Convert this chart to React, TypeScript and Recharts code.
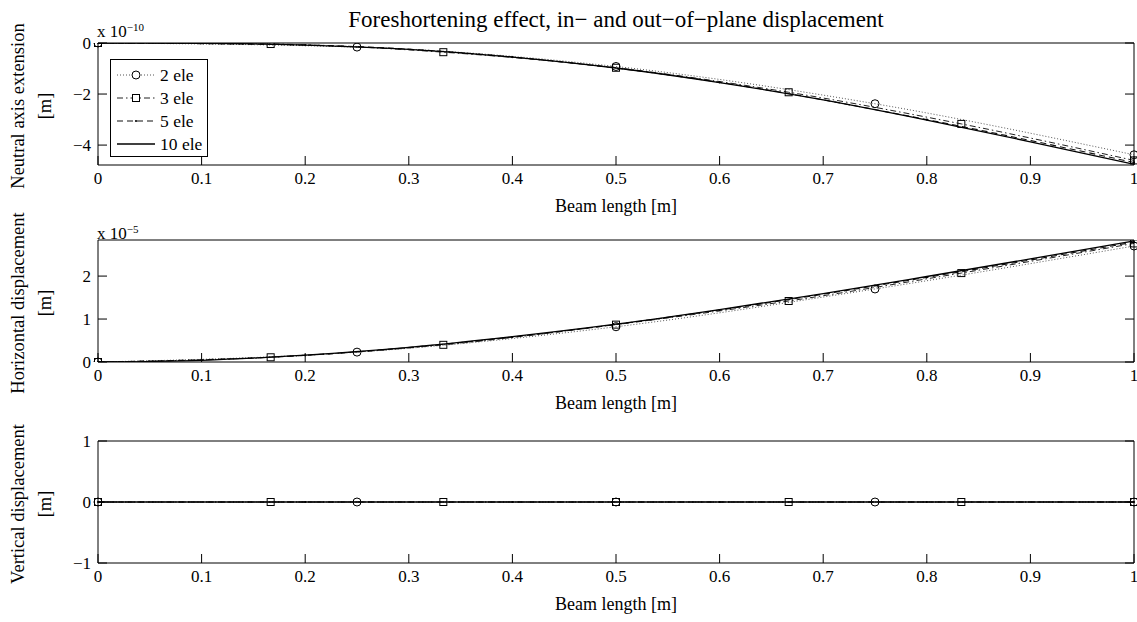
import React from 'react';
import { LineChart, Line, XAxis, YAxis, Label } from 'recharts';

// Node positions for each mesh
const xs2 = [0, 0.25, 0.5, 0.75, 1];
const xs3 = [0, 1 / 6, 1 / 3, 0.5, 2 / 3, 5 / 6, 1];
const xs5 = [0, 0.2, 0.4, 0.6, 0.8, 1];
const xs10 = [0, 0.1, 0.2, 0.3, 0.4, 0.5, 0.6, 0.7, 0.8, 0.9, 1];

// Neutral axis extension (x 1e-10 m)
const neutral2 = [0, -0.16, -0.92, -2.38, -4.38];
const neutral3 = [0, -0.04, -0.36, -0.97, -1.93, -3.17, -4.6];
const neutral5 = [0, -0.08, -0.55, -1.54, -3.0, -4.68];
const neutral10 = [0, -0.01, -0.08, -0.25, -0.55, -0.98, -1.55, -2.23, -3.02, -3.87, -4.75];

// Horizontal displacement (x 1e-5 m)
const horiz2 = [0, 0.23, 0.82, 1.7, 2.7];
const horiz3 = [0, 0.11, 0.4, 0.87, 1.42, 2.07, 2.76];
const horiz5 = [0, 0.155, 0.58, 1.21, 1.97, 2.79];
const horiz10 = [0, 0.04, 0.16, 0.34, 0.59, 0.88, 1.22, 1.59, 1.99, 2.4, 2.82];

// Vertical displacement (m)
const vert2 = [0, 0, 0, 0, 0];
const vert3 = [0, 0, 0, 0, 0, 0, 0];
const vert5 = [0, 0, 0, 0, 0, 0];
const vert10 = [0, 0, 0, 0, 0, 0, 0, 0, 0, 0, 0];

const xTicks = [0, 0.1, 0.2, 0.3, 0.4, 0.5, 0.6, 0.7, 0.8, 0.9, 1];
const legendNames = ['2 ele', '3 ele', '5 ele', '10 ele'];

const FONT = '"Liberation Serif", "Times New Roman", serif';
const toPts = (xs: number[], ys: number[]) => xs.map((x, i) => ({ x, y: ys[i] }));
const minus = (v: number) => String(v).replace('-', '\u2212');

const circleDot = (p: any) => (
  <circle key={`c${p.index}`} cx={p.cx} cy={p.cy} r={4} fill="none" stroke="#000" strokeWidth={1} />
);
const squareDot = (p: any) => (
  <rect key={`s${p.index}`} x={p.cx - 3.5} y={p.cy - 3.5} width={7} height={7} fill="none" stroke="#000" strokeWidth={1} />
);
const pointDot = (p: any) => <circle key={`p${p.index}`} cx={p.cx} cy={p.cy} r={1.1} fill="#000" />;

const styles = [
  { dash: '1 2', width: 1, color: '#555', dot: circleDot },
  { dash: '6 3 1.5 3', width: 1, color: '#222', dot: squareDot },
  { dash: '6 4', width: 1.1, color: '#111', dot: pointDot },
  { dash: undefined, width: 1.3, color: '#000', dot: false as any },
];

const LegendBox = () => (
  <svg width={99} height={99} style={{ position: 'absolute', left: 110, top: 59, display: 'block' }}>
    <rect x={0.5} y={0.5} width={97} height={97} fill="#fff" stroke="#000" strokeWidth={1} />
    {legendNames.map((name, i) => {
      const cy = 16 + i * 23;
      const st = styles[i];
      return (
        <g key={name}>
          <line x1={7} x2={45} y1={cy} y2={cy} stroke={st.color} strokeWidth={st.width} strokeDasharray={st.dash} />
          {i === 0 && <circle cx={26} cy={cy} r={4} fill="#fff" stroke="#000" />}
          {i === 1 && <rect x={22.5} y={cy - 3.5} width={7} height={7} fill="#fff" stroke="#000" />}
          {i === 2 && <circle cx={26} cy={cy} r={1.1} fill="#000" />}
          <text x={50} y={cy + 6} fontFamily={FONT} fontSize={17.5} fill="#000">{name}</text>
        </g>
      );
    })}
  </svg>
);

interface PanelProps {
  series: { x: number; y: number }[][];
  domain: [number, number];
  yTicks: number[];
  label: string;
  top: number;
}

// each panel: plot area starts 41px below the panel's top edge
const Panel: React.FC<PanelProps> = ({ series, domain, yTicks, label, top }) => {
  const tickStyle = { fontFamily: FONT, fontSize: 17, fill: '#000' };
  return (
    <div style={{ position: 'absolute', left: 0, top }}>
      <LineChart width={1137} height={230} margin={{ top: 40, right: 2, bottom: 37, left: 38 }}>
        <XAxis
          xAxisId="b"
          dataKey="x"
          type="number"
          domain={[0, 1]}
          ticks={xTicks}
          interval={0}
          height={30}
          tickSize={-9}
          tickMargin={16}
          tick={tickStyle}
          stroke="#000"
          tickLine={{ stroke: '#000' }}
        >
          <Label value="Beam length [m]" position="bottom" offset={4} style={{ fontFamily: FONT, fontSize: 18, fill: '#000' }} />
        </XAxis>
        <XAxis
          xAxisId="t"
          orientation="top"
          dataKey="x"
          type="number"
          domain={[0, 1]}
          ticks={xTicks}
          interval={0}
          height={1}
          tickSize={-9}
          tickFormatter={() => ''}
          stroke="#000"
        />
        <YAxis
          yAxisId="l"
          dataKey="y"
          type="number"
          domain={domain}
          ticks={yTicks}
          interval={0}
          width={60}
          tickSize={-9}
          tickMargin={16}
          tick={tickStyle}
          tickFormatter={minus}
          stroke="#000"
          allowDataOverflow
        >
          <Label
            content={(p: any) => {
              const vb = p.viewBox;
              const cy = vb.y + vb.height / 2 + 2;
              return (
                <g>
                  <text x={0} y={0} transform={`translate(23.5, ${cy}) rotate(-90)`} textAnchor="middle" fontFamily={FONT} fontSize={18.5} fill="#000">{label}</text>
                  <text x={0} y={0} transform={`translate(51, ${cy}) rotate(-90)`} textAnchor="middle" fontFamily={FONT} fontSize={18.5} fill="#000">[m]</text>
                </g>
              );
            }}
          />
        </YAxis>
        <YAxis
          yAxisId="r"
          orientation="right"
          type="number"
          domain={domain}
          ticks={yTicks}
          interval={0}
          width={1}
          tickSize={-9}
          tickFormatter={() => ''}
          stroke="#000"
          allowDataOverflow
        />
        {series.map((pts, i) => (
          <Line
            key={legendNames[i]}
            xAxisId="b"
            yAxisId="l"
            data={pts}
            dataKey="y"
            name={legendNames[i]}
            type="monotone"
            stroke={styles[i].color}
            strokeWidth={styles[i].width}
            strokeDasharray={styles[i].dash}
            dot={styles[i].dot}
            activeDot={false}
            isAnimationActive={false}
          />
        ))}
      </LineChart>
    </div>
  );
};

export default function App() {
  return (
    <div style={{ position: 'absolute', left: 0, top: 0, width: 1137, height: 622, background: '#fff', fontFamily: FONT, overflow: 'hidden' }}>
      <div style={{ position: 'absolute', left: 0, width: 1232, top: 8, lineHeight: '23px', textAlign: 'center', fontSize: 23, color: '#000', whiteSpace: 'nowrap' }}>
        Foreshortening effect, in{'\u2212'} and out{'\u2212'}of{'\u2212'}plane displacement
      </div>
      <Panel
        top={2}
        series={[toPts(xs2, neutral2), toPts(xs3, neutral3), toPts(xs5, neutral5), toPts(xs10, neutral10)]}
        domain={[-4.78, 0]}
        yTicks={[-4, -2, 0]}
        label="Neutral axis extension"
      />
      <Panel
        top={199}
        series={[toPts(xs2, horiz2), toPts(xs3, horiz3), toPts(xs5, horiz5), toPts(xs10, horiz10)]}
        domain={[0, 2.84]}
        yTicks={[0, 1, 2]}
        label="Horizontal displacement"
      />
      <Panel
        top={400}
        series={[toPts(xs2, vert2), toPts(xs3, vert3), toPts(xs5, vert5), toPts(xs10, vert10)]}
        domain={[-1, 1]}
        yTicks={[-1, 0, 1]}
        label="Vertical displacement"
      />
      <LegendBox />
      <div style={{ position: 'absolute', left: 97, top: 19, fontSize: 17, lineHeight: '17px', color: '#000', whiteSpace: 'nowrap' }}>
        x 10<sup style={{ fontSize: 11, verticalAlign: 6 }}>{'\u2212'}10</sup>
      </div>
      <div style={{ position: 'absolute', left: 97, top: 221, fontSize: 17, lineHeight: '17px', color: '#000', whiteSpace: 'nowrap' }}>
        x 10<sup style={{ fontSize: 11, verticalAlign: 6 }}>{'\u2212'}5</sup>
      </div>
    </div>
  );
}
